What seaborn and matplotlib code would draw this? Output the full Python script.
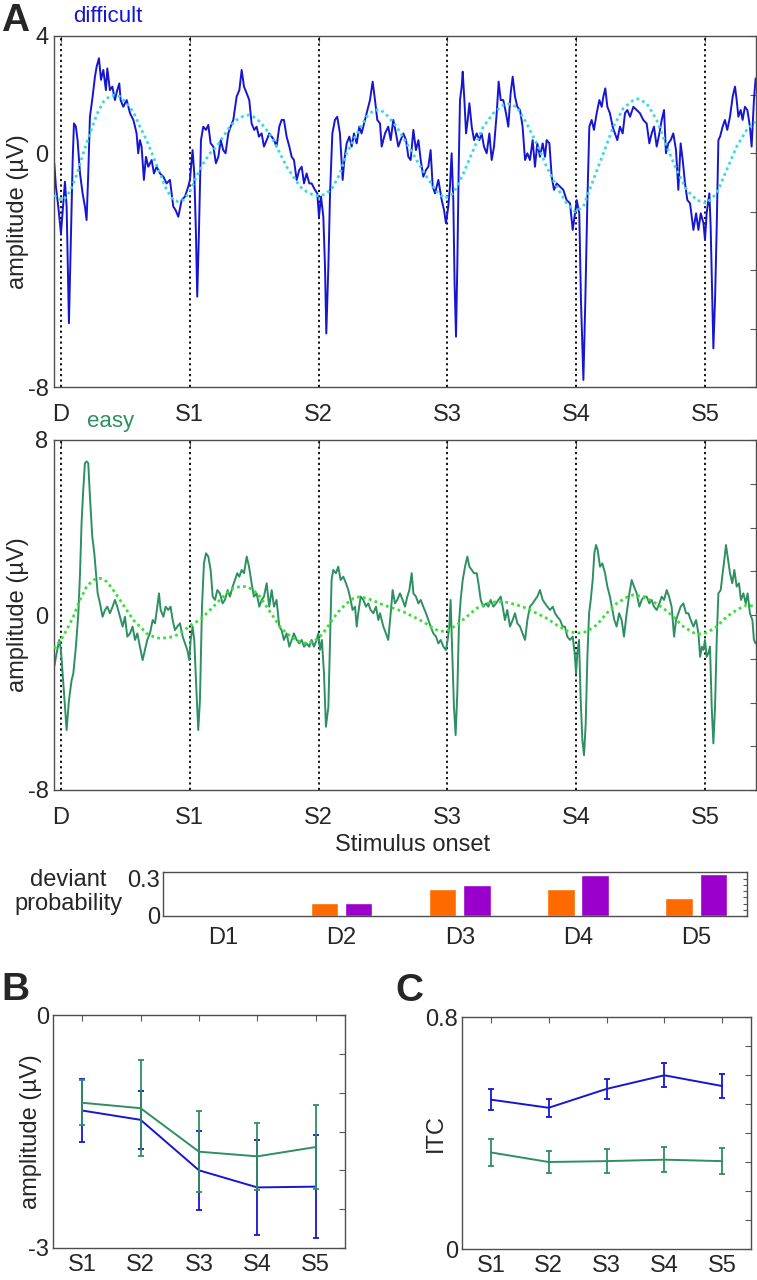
import matplotlib
matplotlib.use("Agg")
import matplotlib.pyplot as plt
import numpy as np
import pandas as pd
import seaborn as sns

sns.set_style("white")
plt.rcParams["font.family"] = ["Liberation Sans", "DejaVu Sans"]

# ---- data ----
onsets = [0, 1, 2, 3, 4, 5]
onset_labels = ["D", "S1", "S2", "S3", "S4", "S5"]

# difficult ERP (time in stimulus intervals, amplitude in uV)
difficult_erp = [
    (-0.052, -0.35), (-0.039, -1.15), (-0.021, -1.83), (0.000, -2.75), (0.018, -1.72), (0.031, -0.98),
    (0.044, -1.83), (0.062, -5.82), (0.078, -2.75), (0.091, -0.24), (0.101, 1.01), (0.116, 0.90),
    (0.129, 0.44), (0.148, -0.70), (0.168, -1.38), (0.186, -1.83), (0.199, -2.29), (0.212, -0.70),
    (0.225, 1.24), (0.246, 1.93), (0.264, 2.61), (0.277, 2.95), (0.295, 3.24), (0.311, 2.50),
    (0.329, 2.84), (0.349, 2.15), (0.360, 2.89), (0.380, 2.15), (0.399, 2.27), (0.419, 1.81),
    (0.437, 2.15), (0.453, 2.38), (0.463, 1.81), (0.484, 1.58), (0.510, 1.81), (0.536, 1.36),
    (0.562, 1.13), (0.575, 0.90), (0.587, 0.67), (0.600, -0.01), (0.613, 0.44), (0.626, 0.22),
    (0.644, -0.92), (0.660, -0.13), (0.678, -0.47), (0.704, -0.24), (0.722, -0.70), (0.743, -0.47),
    (0.769, -0.70), (0.795, -0.81), (0.820, -1.04), (0.846, -0.92), (0.872, -1.83), (0.890, -1.95),
    (0.911, -2.18), (0.937, -1.61), (0.963, -1.49), (0.988, -1.15), (1.001, -0.92), (1.022, 0.10),
    (1.035, -0.70), (1.048, -2.75), (1.058, -4.91), (1.071, -2.75), (1.087, 0.44), (1.105, 0.90),
    (1.126, 0.79), (1.144, 0.96), (1.162, 0.33), (1.183, 0.22), (1.203, -0.35), (1.222, -0.13),
    (1.240, 0.44), (1.260, 0.10), (1.278, -0.01), (1.299, 0.67), (1.317, 0.90), (1.338, 1.13),
    (1.364, 1.93), (1.385, 2.15), (1.403, 2.84), (1.421, 2.27), (1.442, 2.04), (1.462, 1.81),
    (1.480, 1.01), (1.501, 0.79), (1.519, 0.90), (1.537, 0.56), (1.558, 0.67), (1.576, 0.22),
    (1.597, 0.44), (1.617, 0.67), (1.636, 0.56), (1.654, 0.44), (1.674, 0.22), (1.695, 0.90),
    (1.713, 1.13), (1.731, 1.13), (1.752, 0.56), (1.773, 0.22), (1.791, -0.13), (1.809, -0.24),
    (1.830, -0.92), (1.850, -0.58), (1.869, -0.47), (1.887, -1.04), (1.907, -0.70), (1.928, -1.04),
    (1.946, -1.04), (1.972, -1.26), (1.990, -1.38), (2.003, -2.18), (2.019, -1.49), (2.037, -2.18),
    (2.050, -3.89), (2.060, -6.17), (2.076, -3.89), (2.089, -1.38), (2.107, 0.67), (2.127, 1.13),
    (2.145, 1.24), (2.166, 0.67), (2.187, -0.92), (2.200, -0.24), (2.218, 0.33), (2.239, 0.56),
    (2.257, 0.22), (2.275, 0.67), (2.296, 0.33), (2.316, 0.90), (2.334, 0.67), (2.360, 1.13),
    (2.386, 1.58), (2.399, 1.81), (2.420, 2.44), (2.438, 1.81), (2.456, 1.13), (2.477, 1.01),
    (2.490, 0.22), (2.516, 0.67), (2.541, 0.90), (2.560, 0.44), (2.580, 1.13), (2.601, 0.67),
    (2.619, 0.22), (2.637, 0.44), (2.658, 0.67), (2.679, 0.44), (2.697, -0.13), (2.715, -0.24),
    (2.736, 0.79), (2.756, 0.10), (2.775, 0.44), (2.793, -0.24), (2.813, -0.81), (2.834, -0.58),
    (2.852, -0.47), (2.870, 0.10), (2.886, -1.15), (2.904, -1.38), (2.930, -0.92), (2.956, -1.61),
    (2.974, -1.95), (2.989, -2.40), (3.007, -1.83), (3.020, -1.15), (3.033, -0.01), (3.046, -1.61),
    (3.056, -4.46), (3.067, -6.28), (3.077, -3.89), (3.088, -0.47), (3.098, 1.81), (3.111, 2.27),
    (3.119, 2.78), (3.132, 1.81), (3.145, 0.67), (3.158, 1.13), (3.171, 1.70), (3.189, 0.90),
    (3.207, 0.44), (3.228, 0.67), (3.248, 0.44), (3.266, 0.67), (3.284, 0.22), (3.305, -0.01),
    (3.326, 0.67), (3.344, -0.24), (3.362, 0.22), (3.383, 1.36), (3.398, 2.44), (3.414, 1.81),
    (3.434, 1.81), (3.455, 1.36), (3.473, 0.90), (3.491, 2.04), (3.507, 2.61), (3.525, 1.93),
    (3.543, 1.58), (3.564, 1.47), (3.584, 0.90), (3.603, -0.24), (3.621, -0.01), (3.641, -0.24),
    (3.662, 0.44), (3.680, -0.47), (3.698, 0.33), (3.719, -0.13), (3.740, 0.33), (3.758, -0.13),
    (3.771, 0.44), (3.792, 0.33), (3.810, -0.81), (3.828, -1.26), (3.849, -1.04), (3.874, -1.15),
    (3.900, -1.26), (3.926, -1.61), (3.952, -1.72), (3.973, -2.63), (3.991, -2.06), (4.004, -1.61),
    (4.024, -2.06), (4.037, -5.03), (4.056, -7.76), (4.071, -5.03), (4.087, -1.61), (4.102, 0.90),
    (4.120, 1.13), (4.138, 0.79), (4.159, 1.36), (4.180, 1.81), (4.198, 1.58), (4.211, 1.93),
    (4.226, 2.21), (4.242, 1.58), (4.262, 1.36), (4.283, 0.90), (4.301, 0.67), (4.319, 0.44),
    (4.340, 0.90), (4.361, 0.67), (4.379, 1.36), (4.397, 1.47), (4.418, 1.24), (4.444, 1.58),
    (4.469, 1.47), (4.495, 1.36), (4.521, 1.13), (4.547, 1.01), (4.568, 0.33), (4.586, 0.67),
    (4.604, 0.90), (4.625, 0.22), (4.646, 0.67), (4.664, 1.13), (4.682, 1.47), (4.697, -0.01),
    (4.715, 0.33), (4.734, 0.44), (4.754, 0.67), (4.775, 0.10), (4.793, -1.26), (4.811, 0.33),
    (4.827, -0.24), (4.845, -1.04), (4.863, -1.61), (4.884, -1.72), (4.897, -2.18), (4.910, -2.63),
    (4.931, -2.06), (4.949, -2.63), (4.967, -2.06), (4.988, -2.40), (5.000, -2.97), (5.013, -2.06),
    (5.034, -1.38), (5.044, -2.52), (5.057, -5.03), (5.065, -6.68), (5.078, -5.03), (5.091, -2.52),
    (5.104, 0.44), (5.117, 0.56), (5.137, 0.90), (5.155, 1.13), (5.173, 0.79), (5.194, 1.24),
    (5.215, 1.93), (5.233, 2.27), (5.246, 1.81), (5.259, 1.24), (5.277, 1.47), (5.292, 1.13),
    (5.310, 1.58), (5.329, 1.47), (5.349, 0.90), (5.362, 0.22), (5.380, 1.81), (5.393, 2.55),
]

# fitted oscillation, difficult
difficult_fit = [
    (-0.052, -1.44), (-0.021, -1.57), (0.018, -1.61), (0.070, -1.32), (0.122, -0.75), (0.173, -0.01),
    (0.225, 0.67), (0.277, 1.30), (0.329, 1.75), (0.380, 1.95), (0.419, 1.98), (0.458, 1.93),
    (0.510, 1.70), (0.562, 1.41), (0.613, 0.90), (0.665, 0.44), (0.717, -0.13), (0.769, -0.70),
    (0.820, -1.26), (0.872, -1.61), (0.911, -1.66), (0.950, -1.61), (1.001, -1.32), (1.053, -0.81),
    (1.105, -0.35), (1.157, -0.01), (1.209, 0.22), (1.260, 0.56), (1.312, 0.90), (1.364, 1.13),
    (1.416, 1.26), (1.454, 1.30), (1.493, 1.24), (1.545, 1.07), (1.597, 0.79), (1.649, 0.44),
    (1.700, -0.01), (1.752, -0.47), (1.804, -0.81), (1.856, -1.15), (1.907, -1.32), (1.959, -1.44),
    (2.011, -1.47), (2.063, -1.38), (2.114, -1.15), (2.166, -0.70), (2.218, -0.01), (2.270, 0.44),
    (2.321, 0.84), (2.373, 1.24), (2.425, 1.45), (2.477, 1.49), (2.528, 1.30), (2.606, 0.90),
    (2.684, 0.33), (2.761, -0.24), (2.839, -0.81), (2.917, -1.32), (2.981, -1.55), (3.046, -1.38),
    (3.124, -0.70), (3.201, 0.10), (3.279, 0.90), (3.357, 1.36), (3.434, 1.64), (3.473, 1.68),
    (3.538, 1.58), (3.616, 1.01), (3.693, 0.33), (3.771, -0.47), (3.849, -1.15), (3.926, -1.72),
    (3.991, -2.01), (4.056, -1.83), (4.133, -0.92), (4.211, -0.01), (4.289, 0.90), (4.366, 1.53),
    (4.444, 1.81), (4.483, 1.85), (4.547, 1.70), (4.625, 1.13), (4.703, 0.22), (4.780, -0.58),
    (4.858, -1.26), (4.936, -1.61), (5.013, -1.72), (5.091, -1.38), (5.168, -0.58), (5.246, 0.22),
    (5.324, 0.79), (5.393, 1.07),
]

# easy ERP
easy_erp = [
    (-0.052, -2.36), (-0.034, -1.75), (-0.013, -1.14), (0.000, -1.60), (0.013, -2.67), (0.031, -4.20),
    (0.044, -5.26), (0.062, -3.89), (0.083, -2.97), (0.096, -2.67), (0.116, -1.45), (0.135, 0.08),
    (0.148, 1.91), (0.160, 4.20), (0.173, 5.72), (0.186, 6.94), (0.199, 7.02), (0.212, 6.94),
    (0.225, 5.42), (0.243, 3.59), (0.259, 2.82), (0.272, 1.91), (0.285, 0.99), (0.303, 0.53),
    (0.323, -0.08), (0.342, 0.23), (0.360, 0.38), (0.380, 0.08), (0.401, 0.38), (0.419, 0.69),
    (0.437, 0.38), (0.458, -0.08), (0.479, -0.53), (0.497, -0.08), (0.515, -0.99), (0.536, -0.84),
    (0.556, -0.53), (0.575, -1.14), (0.593, -0.84), (0.613, -1.45), (0.634, -2.06), (0.652, -1.60),
    (0.670, -1.14), (0.691, -0.84), (0.712, -0.23), (0.730, -0.38), (0.748, 0.38), (0.761, 0.99),
    (0.774, 0.23), (0.795, -0.08), (0.813, 0.38), (0.833, 0.23), (0.851, 0.38), (0.867, -0.23),
    (0.885, -0.69), (0.903, -0.53), (0.924, -0.38), (0.945, -0.99), (0.963, -1.30), (0.981, -1.60),
    (0.996, -2.06), (1.007, -1.14), (1.022, -0.53), (1.035, -1.14), (1.048, -2.97), (1.066, -5.26),
    (1.079, -3.89), (1.095, 0.38), (1.110, 2.36), (1.126, 2.82), (1.144, 2.67), (1.162, 2.06),
    (1.178, 0.84), (1.196, 0.69), (1.214, 1.14), (1.234, 0.99), (1.255, 0.53), (1.273, 0.69),
    (1.294, 1.14), (1.312, 0.84), (1.333, 1.30), (1.351, 1.60), (1.369, 1.91), (1.385, 1.75),
    (1.403, 2.06), (1.421, 1.91), (1.442, 2.67), (1.460, 2.21), (1.480, 1.45), (1.498, 0.84),
    (1.519, 0.99), (1.540, 0.38), (1.558, 0.69), (1.576, 0.84), (1.597, 1.45), (1.617, 0.38),
    (1.636, 1.14), (1.654, 0.38), (1.674, 0.69), (1.695, -0.53), (1.713, -0.69), (1.731, -1.14),
    (1.752, -0.84), (1.773, -1.45), (1.791, -1.14), (1.809, -0.84), (1.830, -1.14), (1.850, -1.30),
    (1.869, -1.14), (1.887, -1.45), (1.907, -1.30), (1.928, -1.45), (1.946, -1.14), (1.964, -1.45),
    (1.985, -1.14), (1.998, -0.84), (2.011, -1.60), (2.026, -1.14), (2.042, -2.67), (2.057, -5.11),
    (2.076, -4.20), (2.089, -1.14), (2.101, 1.60), (2.114, 2.06), (2.135, 1.91), (2.153, 2.21),
    (2.171, 1.60), (2.192, 1.75), (2.213, 1.45), (2.231, 1.14), (2.249, 0.69), (2.264, 0.23),
    (2.283, 0.38), (2.296, -0.53), (2.308, 0.08), (2.327, 0.84), (2.347, 0.69), (2.368, 0.38),
    (2.386, 0.53), (2.404, 0.23), (2.425, 0.08), (2.446, 0.38), (2.464, -0.23), (2.477, 0.08),
    (2.503, -0.53), (2.523, -0.84), (2.541, -1.14), (2.560, 0.08), (2.575, 1.14), (2.593, 0.53),
    (2.611, 0.69), (2.632, 0.99), (2.653, 0.69), (2.671, 0.38), (2.689, 0.84), (2.705, 1.14),
    (2.723, 1.91), (2.736, 0.99), (2.756, 0.84), (2.775, 0.53), (2.793, 0.69), (2.813, 0.38),
    (2.834, 0.08), (2.852, -0.23), (2.870, -0.53), (2.891, -0.84), (2.912, -0.99), (2.930, -1.30),
    (2.948, -1.14), (2.969, -1.45), (2.989, -1.60), (3.002, -1.14), (3.015, -0.53), (3.025, 0.69),
    (3.038, -1.75), (3.051, -4.20), (3.064, -5.49), (3.077, -3.59), (3.090, -0.38), (3.103, 0.69),
    (3.119, 1.60), (3.137, 2.21), (3.155, 2.67), (3.171, 2.21), (3.189, 2.06), (3.207, 1.91),
    (3.228, 1.91), (3.241, 1.45), (3.259, 0.69), (3.279, 0.38), (3.300, 0.53), (3.318, 0.38),
    (3.336, 0.69), (3.357, 0.38), (3.378, 0.53), (3.396, 0.69), (3.414, 0.84), (3.429, 0.38),
    (3.447, -0.23), (3.465, 0.23), (3.486, -0.53), (3.507, -0.23), (3.525, 0.08), (3.543, -0.38),
    (3.564, -0.53), (3.584, -0.84), (3.603, -1.14), (3.621, -0.23), (3.641, 0.38), (3.662, 0.53),
    (3.680, 0.69), (3.698, 0.84), (3.719, 1.14), (3.740, 0.69), (3.758, 0.53), (3.776, 0.38),
    (3.797, 0.23), (3.818, 0.38), (3.836, 0.08), (3.854, -0.08), (3.875, -0.23), (3.895, -0.53),
    (3.913, -0.53), (3.931, -0.99), (3.952, -1.14), (3.973, -0.99), (3.988, -1.75), (3.999, -2.67),
    (4.009, -1.75), (4.022, -1.14), (4.035, -3.89), (4.048, -5.72), (4.061, -6.41), (4.074, -4.96),
    (4.087, -1.91), (4.100, 0.08), (4.113, 0.69), (4.128, 1.60), (4.141, 2.82), (4.154, 3.20),
    (4.167, 2.97), (4.185, 2.21), (4.203, 2.36), (4.224, 1.91), (4.242, 1.30), (4.262, 0.84),
    (4.281, 0.23), (4.296, -0.23), (4.314, -0.53), (4.333, 0.08), (4.353, -0.23), (4.371, -0.99),
    (4.392, 0.08), (4.413, 0.99), (4.431, 1.60), (4.449, 1.30), (4.470, 0.99), (4.490, 0.38),
    (4.509, 0.69), (4.527, 0.84), (4.547, 0.84), (4.568, 0.53), (4.586, 0.69), (4.604, 0.38),
    (4.625, 0.23), (4.646, 0.53), (4.664, 0.84), (4.682, 0.69), (4.703, 1.14), (4.721, 0.84),
    (4.741, 0.38), (4.760, -0.99), (4.775, -0.23), (4.793, 0.08), (4.811, 0.38), (4.832, 0.53),
    (4.853, 0.08), (4.871, 0.08), (4.889, -0.23), (4.910, -0.53), (4.931, -0.23), (4.949, -0.84),
    (4.962, -1.91), (4.975, -1.45), (4.988, -1.60), (5.000, -1.14), (5.013, -1.91), (5.026, -1.75),
    (5.039, -1.45), (5.052, -4.20), (5.065, -5.87), (5.078, -4.20), (5.091, -1.14), (5.104, 0.99),
    (5.122, 1.14), (5.137, 1.91), (5.150, 2.52), (5.163, 3.20), (5.176, 2.67), (5.194, 1.91),
    (5.212, 1.45), (5.228, 2.06), (5.246, 1.30), (5.264, 1.45), (5.279, 0.69), (5.298, 0.99),
    (5.316, 0.53), (5.331, 0.99), (5.349, 0.08), (5.368, -0.23), (5.380, -1.14), (5.393, -1.30),
]

# fitted oscillation, easy
easy_fit = [
    (-0.052, -1.53), (0.000, -1.14), (0.044, -0.69), (0.096, -0.08), (0.148, 0.69), (0.199, 1.30),
    (0.251, 1.60), (0.303, 1.68), (0.355, 1.53), (0.406, 1.14), (0.458, 0.69), (0.510, 0.23),
    (0.562, -0.23), (0.613, -0.53), (0.665, -0.84), (0.717, -0.99), (0.769, -1.07), (0.820, -1.04),
    (0.872, -0.99), (0.924, -0.84), (0.976, -0.61), (1.027, -0.38), (1.079, -0.23), (1.131, 0.08),
    (1.183, 0.38), (1.234, 0.69), (1.286, 0.99), (1.338, 1.22), (1.390, 1.30), (1.442, 1.30),
    (1.493, 1.14), (1.545, 0.84), (1.597, 0.38), (1.649, -0.08), (1.700, -0.53), (1.752, -0.84),
    (1.804, -1.07), (1.856, -1.22), (1.907, -1.30), (1.959, -1.22), (2.011, -0.99), (2.063, -0.61),
    (2.114, -0.15), (2.166, 0.23), (2.218, 0.53), (2.270, 0.76), (2.321, 0.84), (2.373, 0.76),
    (2.425, 0.66), (2.477, 0.53), (2.503, 0.46), (2.580, 0.31), (2.658, 0.15), (2.736, -0.08),
    (2.813, -0.31), (2.891, -0.61), (2.943, -0.76), (3.007, -0.69), (3.072, -0.46), (3.150, -0.08),
    (3.228, 0.31), (3.305, 0.53), (3.383, 0.61), (3.460, 0.58), (3.538, 0.46), (3.616, 0.31),
    (3.693, 0.08), (3.771, -0.15), (3.849, -0.46), (3.926, -0.72), (4.004, -0.84), (4.081, -0.76),
    (4.159, -0.46), (4.237, 0.08), (4.314, 0.53), (4.392, 0.81), (4.444, 0.92), (4.521, 0.84),
    (4.599, 0.61), (4.677, 0.31), (4.754, -0.08), (4.832, -0.53), (4.910, -0.81), (4.962, -0.87),
    (5.013, -0.81), (5.091, -0.53), (5.168, -0.08), (5.246, 0.23), (5.324, 0.46), (5.393, 0.38),
]

# deviant probability
deviant_labels = ["D1", "D2", "D3", "D4", "D5"]
dev_prob_cond1 = [0.003, 0.106, 0.217, 0.220, 0.146]
dev_prob_cond2 = [0.003, 0.108, 0.249, 0.332, 0.334]

# panel B / C
stim_labels = ["S1", "S2", "S3", "S4", "S5"]
amp_difficult = [-1.23, -1.35, -2.00, -2.22, -2.21]
amp_difficult_err = [0.40, 0.37, 0.51, 0.61, 0.66]
amp_easy = [-1.13, -1.20, -1.76, -1.82, -1.70]
amp_easy_err = [0.29, 0.62, 0.52, 0.43, 0.54]
itc_difficult = [0.515, 0.487, 0.552, 0.599, 0.562]
itc_difficult_err = [0.037, 0.031, 0.035, 0.042, 0.041]
itc_easy = [0.333, 0.300, 0.303, 0.308, 0.303]
itc_easy_err = [0.046, 0.039, 0.042, 0.044, 0.045]

# ---- style ----
BLUE = "#1616d2"
CYAN = "#3cd8e4"
GREEN = "#2e8f62"
LGREEN = "#38e038"
ORANGE = "#ff6a00"
PURPLE = "#9900cc"
FS = 17

W, H = 757, 1280
fig = plt.figure(figsize=(W / 100, H / 100), dpi=100)


def rect(l, t, r, b):
    return [l / W, 1 - b / H, (r - l) / W, (b - t) / H]


def matlab_box(ax):
    for s in ax.spines.values():
        s.set_color("0.3")
        s.set_linewidth(1.0)
    ax.tick_params(direction="in", top=True, right=True, length=4, width=0.8,
                   color="0.35", labelsize=FS)


def sparse(ticks, keep):
    return [("%g" % v) if v in keep else "" for v in ticks]


def trace_panel(ax, erp, fit, c_erp, c_fit, ylim):
    t, v = zip(*erp)
    tf, vf = zip(*fit)
    sns.lineplot(x=list(tf), y=list(vf), ax=ax, color=c_fit, lw=2.0,
                 linestyle=(0, (1.0, 1.2)), estimator=None, zorder=3)
    sns.lineplot(x=list(t), y=list(v), ax=ax, color=c_erp, lw=1.4,
                 estimator=None, zorder=2)
    for x in onsets:
        ax.axvline(x, color="k", lw=1.3, ls=(0, (1.2, 1.8)), zorder=1)
    ax.set_xlim(-0.054, 5.396)
    ax.set_ylim(*ylim)
    matlab_box(ax)
    ax.set_xticks(onsets)
    ax.set_xticklabels(onset_labels)
    ax.tick_params(axis="x", pad=12)
    ax.tick_params(axis="y", pad=4)
    ax.set_xlabel("")
    ax.set_ylabel("amplitude (µV)", fontsize=FS)
    ax.yaxis.set_label_coords(-0.036, 0.5)


# ---- panel A: difficult ----
ax1 = fig.add_axes(rect(54, 36, 756, 387))
trace_panel(ax1, difficult_erp, difficult_fit, BLUE, CYAN, (-8, 4))
yt = list(range(-8, 5, 2))
ax1.set_yticks(yt)
ax1.set_yticklabels(sparse(yt, [-8, 0, 4]))

# ---- panel A: easy ----
ax2 = fig.add_axes(rect(54, 440, 756, 790))
trace_panel(ax2, easy_erp, easy_fit, GREEN, LGREEN, (-8, 8))
yt = list(range(-8, 9, 2))
ax2.set_yticks(yt)
ax2.set_yticklabels(sparse(yt, [-8, 0, 8]))

fig.text(0.002, 1 - 3 / H, "A", fontsize=28, fontweight="bold", va="top", ha="left")
fig.text(73 / W, 1 - 17 / H, "difficult", fontsize=16, color=BLUE, va="center", ha="left")
fig.text(87 / W, 1 - 421 / H, "easy", fontsize=16, color=GREEN, va="center", ha="left")
fig.text(413 / W, 1 - 845 / H, "Stimulus onset", fontsize=FS, va="center", ha="center")

# ---- deviant probability bars ----
ax3 = fig.add_axes(rect(163, 872, 747, 916))
bars = pd.DataFrame({
    "dev": deviant_labels * 2,
    "p": dev_prob_cond1 + dev_prob_cond2,
    "cond": ["c1"] * 5 + ["c2"] * 5,
})
sns.barplot(data=bars, x="dev", y="p", hue="cond", palette=[ORANGE, PURPLE],
            width=0.58, gap=0.2, saturation=1, legend=False, ax=ax3)
ax3.set_xlim(-0.51, 4.43)
ax3.set_ylim(0, 0.354)
matlab_box(ax3)
yt = [round(0.05 * i, 2) for i in range(7)]
ax3.set_yticks(yt)
ax3.set_yticklabels(sparse(yt, [0, 0.3]))
ax3.tick_params(axis="x", length=0, pad=8)
ax3.tick_params(axis="y", pad=2, length=3)
ax3.set_xlabel("")
ax3.set_ylabel("")
fig.text(68 / W, 1 - 892 / H, "deviant\nprobability", fontsize=FS, ha="center",
         va="center", linespacing=1.1)

# ---- panel B ----
xs = [1, 2, 3, 4, 5]
ax4 = fig.add_axes(rect(53, 1015, 345, 1248))
for y, e, c in [(amp_difficult, amp_difficult_err, BLUE), (amp_easy, amp_easy_err, GREEN)]:
    ax4.errorbar(xs, y, yerr=e, fmt="none", ecolor=c, elinewidth=1.3, capsize=2, capthick=1.3)
    sns.lineplot(x=xs, y=y, ax=ax4, color=c, lw=1.4)
ax4.set_xlim(0.5, 5.5)
ax4.set_ylim(-3, 0)
matlab_box(ax4)
ax4.set_xticks(xs)
ax4.set_xticklabels(stim_labels)
yt = [-3, -2.5, -2, -1.5, -1, -0.5, 0]
ax4.set_yticks(yt)
ax4.set_yticklabels(sparse(yt, [-3, 0]))
ax4.tick_params(axis="x", pad=4)
ax4.tick_params(axis="y", pad=3)
ax4.set_xlabel("")
ax4.set_ylabel("amplitude (µV)", fontsize=FS)
ax4.yaxis.set_label_coords(-0.038, 0.5)
fig.text(0.002, 1 - 990 / H, "B", fontsize=28, fontweight="bold", va="center", ha="left")

# ---- panel C ----
ax5 = fig.add_axes(rect(462, 1017, 751, 1249))
for y, e, c in [(itc_difficult, itc_difficult_err, BLUE), (itc_easy, itc_easy_err, GREEN)]:
    ax5.errorbar(xs, y, yerr=e, fmt="none", ecolor=c, elinewidth=1.3, capsize=2, capthick=1.3)
    sns.lineplot(x=xs, y=y, ax=ax5, color=c, lw=1.4)
ax5.set_xlim(0.5, 5.5)
ax5.set_ylim(0, 0.8)
matlab_box(ax5)
ax5.set_xticks(xs)
ax5.set_xticklabels(stim_labels)
yt = [round(0.1 * i, 1) for i in range(9)]
ax5.set_yticks(yt)
ax5.set_yticklabels(sparse(yt, [0, 0.8]))
ax5.tick_params(axis="x", pad=4)
ax5.tick_params(axis="y", pad=3)
ax5.set_xlabel("")
ax5.set_ylabel("ITC", fontsize=FS)
ax5.yaxis.set_label_coords(-0.051, 0.5)
fig.text(395 / W, 1 - 991 / H, "C", fontsize=28, fontweight="bold", va="center", ha="left")

fig.savefig("out.png", dpi=100)
